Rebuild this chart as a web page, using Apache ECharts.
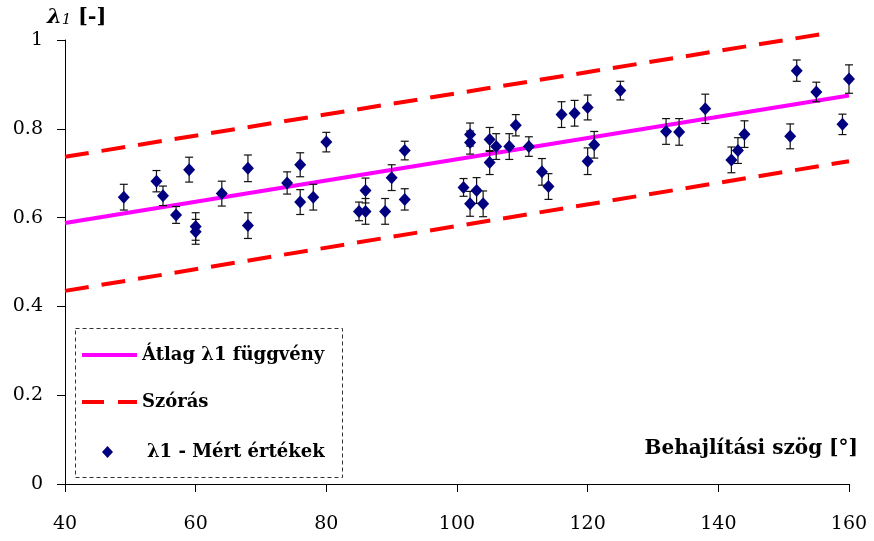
<!DOCTYPE html>
<html>
<head>
<meta charset="utf-8">
<script src="https://cdn.jsdelivr.net/npm/echarts@6/dist/echarts.min.js"></script>
<style>
  html, body { margin: 0; padding: 0; background: #fff; }
  #chart { width: 874px; height: 541px; }
</style>
</head>
<body>
<div id="chart"></div>
<script>
// measured points (angle, lambda1, +/- error)
const angles = [49, 54, 55, 57, 59, 60, 60, 64, 68, 68, 74, 76, 76, 78, 80, 85, 86, 86, 89, 90,
  92, 92, 101, 102, 102, 102, 103, 104, 105, 105, 106, 108, 109, 111, 113, 114, 116, 118, 120, 120,
  121, 125, 132, 134, 138, 142, 143, 144, 151, 152, 155, 159, 160];
const lambdaVals = [0.646, 0.682, 0.649, 0.606, 0.708, 0.580, 0.568, 0.654, 0.711, 0.582, 0.678, 0.719, 0.635, 0.646, 0.770,
  0.614, 0.614, 0.661, 0.614, 0.690, 0.751, 0.641, 0.668, 0.787, 0.769, 0.631, 0.661, 0.631, 0.776, 0.724,
  0.760, 0.760, 0.808, 0.760, 0.703, 0.670, 0.832, 0.835, 0.848, 0.727, 0.764, 0.886, 0.794, 0.793, 0.845,
  0.730, 0.751, 0.788, 0.783, 0.931, 0.883, 0.810, 0.912];
const errVals = [0.029, 0.024, 0.022, 0.019, 0.028, 0.031, 0.028, 0.028, 0.030, 0.029, 0.025, 0.027, 0.028, 0.029, 0.022,
  0.021, 0.029, 0.028, 0.029, 0.029, 0.021, 0.024, 0.020, 0.026, 0.026, 0.028, 0.029, 0.029, 0.027, 0.027,
  0.029, 0.029, 0.024, 0.022, 0.030, 0.029, 0.029, 0.029, 0.028, 0.030, 0.030, 0.021, 0.029, 0.030, 0.033,
  0.029, 0.029, 0.030, 0.028, 0.024, 0.022, 0.023, 0.032];

// fitted mean and +/- deviation lines (end points)
const meanX = [40, 160];
const meanY = [0.588, 0.875];
const upperX = [40, 157];
const upperY = [0.737, 1.016];
const lowerX = [40, 160];
const lowerY = [0.435, 0.727];

// axes
const xMin = 40, xMax = 160, xStep = 20;
const yMin = 0, yMax = 1, yStep = 0.2;

const NAME_MEAN = 'Átlag λ1 függvény';
const NAME_SD = 'Szórás';
const NAME_PTS = 'λ1 - Mért értékek';

const serif = 'DejaVu Serif';

const zip = (a, b) => a.map((v, i) => [v, b[i]]);

const chart = echarts.init(document.getElementById('chart'));

const legendText = {
  fontFamily: serif, fontWeight: 'bold', fontSize: 18, color: '#000'
};

const option = {
  animation: false,
  grid: { left: 65, right: 25, top: 40, bottom: 57 },
  xAxis: {
    type: 'value',
    min: xMin, max: xMax, interval: xStep,
    axisLine: { onZero: false, lineStyle: { color: '#000', width: 1 } },
    axisTick: { show: true, length: 8, inside: false, lineStyle: { color: '#000' } },
    axisLabel: { margin: 31, fontFamily: serif, fontSize: 19, color: '#000' },
    splitLine: { show: false }
  },
  yAxis: {
    type: 'value',
    min: yMin, max: yMax, interval: yStep,
    axisLine: { show: true, onZero: false, lineStyle: { color: '#000', width: 1 } },
    axisTick: { show: true, length: 8, inside: false, lineStyle: { color: '#000' } },
    axisLabel: {
      margin: 22, fontFamily: serif, fontSize: 19, color: '#000',
      formatter: v => String(Math.round(v * 10) / 10)
    },
    splitLine: { show: false }
  },
  legend: [
    {
      data: [NAME_MEAN], left: 80, top: 346, padding: 0, itemWidth: 55, itemHeight: 14,
      itemStyle: { opacity: 0 }, lineStyle: { width: 4 }, textStyle: legendText
    },
    {
      data: [NAME_SD], left: 80, top: 393, padding: 0, itemWidth: 55, itemHeight: 14,
      itemStyle: { opacity: 0 }, lineStyle: { width: 4, type: [22, 14], cap: 'butt' }, textStyle: legendText
    },
    {
      data: [{ name: NAME_PTS, icon: 'diamond' }], left: 102, top: 443, padding: 0, itemWidth: 11, itemHeight: 12,
      textStyle: Object.assign({ padding: [0, 0, 0, 29] }, legendText)
    }
  ],
  graphic: [
    {
      type: 'rect', left: 73, top: 326, z: 0,
      shape: { width: 267, height: 149 },
      style: { fill: 'none', stroke: '#333', lineWidth: 1, lineDash: [4, 3] }
    },
    {
      type: 'text', left: 47, top: 7,
      style: {
        text: '{l|λ}{s|1}  {b|[-]}',
        rich: {
          l: { fontFamily: serif, fontStyle: 'italic', fontWeight: 'bold', fontSize: 21, fill: '#000' },
          s: { fontFamily: serif, fontStyle: 'italic', fontSize: 15, fill: '#000', padding: [6, 0, 0, 0] },
          b: { fontFamily: serif, fontWeight: 'bold', fontSize: 21, fill: '#000' }
        }
      }
    },
    {
      type: 'text', right: 16, top: 439,
      style: {
        text: 'Behajlítási szög [°]',
        fontFamily: serif, fontWeight: 'bold', fontSize: 20, fill: '#000'
      }
    }
  ],
  series: [
    {
      name: NAME_MEAN, type: 'line', data: zip(meanX, meanY),
      symbol: 'none', silent: true, z: 2,
      lineStyle: { color: '#ff00ff', width: 4 },
      itemStyle: { color: '#ff00ff' }
    },
    {
      name: NAME_SD, type: 'line', data: zip(upperX, upperY),
      symbol: 'none', silent: true, clip: false, z: 2,
      lineStyle: { color: '#ff0000', width: 4, type: [24, 13], cap: 'butt' },
      itemStyle: { color: '#ff0000' }
    },
    {
      name: NAME_SD, type: 'line', data: zip(lowerX, lowerY),
      symbol: 'none', silent: true, z: 2,
      lineStyle: { color: '#ff0000', width: 4, type: [24, 13], cap: 'butt' },
      itemStyle: { color: '#ff0000' }
    },
    {
      name: 'errors', type: 'custom', z: 3, silent: true,
      data: angles.map((a, i) => [a, lambdaVals[i], errVals[i]]),
      renderItem: (params, api) => {
        const x = api.value(0), y = api.value(1), e = api.value(2);
        const top = api.coord([x, y + e]);
        const bot = api.coord([x, y - e]);
        const cap = 4;
        const style = { stroke: '#111', lineWidth: 1.2 };
        return {
          type: 'group',
          children: [
            { type: 'line', shape: { x1: top[0], y1: top[1], x2: bot[0], y2: bot[1] }, style },
            { type: 'line', shape: { x1: top[0] - cap, y1: top[1], x2: top[0] + cap, y2: top[1] }, style },
            { type: 'line', shape: { x1: bot[0] - cap, y1: bot[1], x2: bot[0] + cap, y2: bot[1] }, style }
          ]
        };
      }
    },
    {
      name: NAME_PTS, type: 'scatter', z: 4,
      data: zip(angles, lambdaVals),
      symbol: 'diamond', symbolSize: [12, 13],
      itemStyle: { color: '#000080', opacity: 1 }
    }
  ]
};

chart.setOption(option);
</script>
</body>
</html>
